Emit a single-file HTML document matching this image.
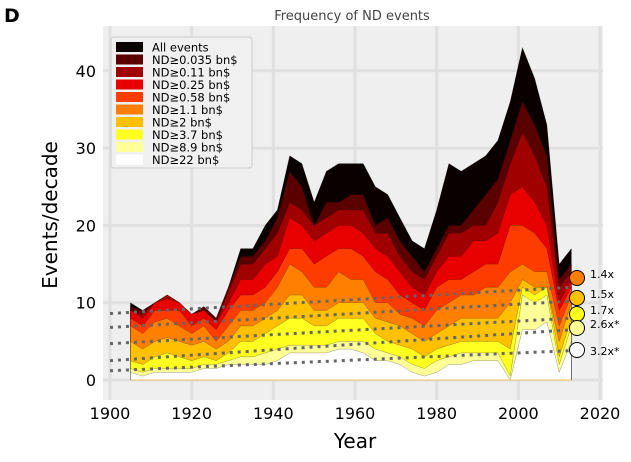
<!DOCTYPE html>
<html><head><meta charset="utf-8"><style>
body{margin:0;background:#fff;}
svg{display:block;font-family:"DejaVu Sans","Liberation Sans",sans-serif;}
</style></head><body>
<svg id="chart" width="631" height="462">
<text x="4" y="22" font-size="19" font-weight="bold">D</text>
<rect x="103" y="26" width="500" height="374" fill="#efefef"/>
<text x="352" y="20" font-size="13" fill="#444" text-anchor="middle">Frequency of ND events</text>
<g id="grid"></g><g id="areas"></g><g id="trends"></g><g id="axes"></g><g id="legend"></g><g id="markers"></g>
<text x="355" y="448" font-size="20" text-anchor="middle">Year</text>
<text transform="translate(57,215) rotate(-90)" font-size="20" text-anchor="middle">Events/decade</text>
</svg>
<script>
const years=[1905,1908,1911,1914,1917,1920,1923,1926,1929,1932,1935,1938,1941,1944,1947,1950,1953,1956,1959,1962,1965,1968,1971,1974,1977,1980,1983,1986,1989,1992,1995,1998,2001,2004,2007,2010,2013];
const sAll=[10,9,10,11,10,8.5,9.5,8,12,17,17,20,22,29,28,23,27,28,28,28,25,24,21,18,17,22,28,27,28,29,31,36,43,39,33,15,17];
const s0035=[9.5,9,10,11,10,8.5,9.5,8,12,16,16,18,21,27,25,20,23,23,24,24,20,21,18,16,14,17,20,20,22,24,26,31,36,33,29,13,15];
const s011=[9,8.5,10,11,10,8.5,9,7.5,11.5,15,15,17,19,23,22,20,21,22,22,22,19,19,16,14,13,16,19,19,20,20,23,28,32,29,25,12,14];
const s025=[9,8,10,10.5,10,8.5,9,7.5,10,13,13,15,16,21,20,18,19,20,20,19,17,16,14,12,11,14,16,16,18,18,19,24,25,23,20,10,13];
const s058=[8,7,9,9,9,7,8,6.5,9,11,11,12,14,17,17,15,16,17,17,16,14,13,11,10,9,12,13,13,14,15,15,20,20,19,17,9,12];
const s11=[7,6,7.5,8,7,6,7,5,7,9,9,10,12,15,14,12,12,14,13,13,10,10,8.5,8,7,9,10,11,11,12,12,14,15,14,14,7,11];
const s2=[5,4,5,5.5,5,4.5,5,4,5,7,7,8,9,11,11,9,9,10,10,10,8,7.5,7,6,5,6,7,8,8,8,8,10,13,12,12,5,10];
const s37=[2.5,2,3,3.5,3,2.5,3,2.5,3.5,5,5,6,7,8,8,7,7,8,8,8,6,5,4.5,4,3,4,4.5,5,5,5,5,4,12,11,12,3,8];
const s89=[1.5,1,1.5,1.5,1.5,1.5,2,2,2.5,3,3,3.5,4,4.5,4.5,4.5,4.5,5,5,5,4,3.5,3,2,1.5,2.5,3,3.5,3.5,3.5,3.5,0.5,11,10,11,2,7];
const s22=[1,0.5,1,1,1,1,1.5,1.5,2,2,2,2,2.5,3.5,3.5,3.5,3.5,4,4,3.5,2.5,2.5,2,1,0.5,1,2,2,2.5,2.5,2.5,0,6.5,6.5,7.5,1,5];
const labels=["All events","ND≥0.035 bn$","ND≥0.11 bn$","ND≥0.25 bn$","ND≥0.58 bn$","ND≥1.1 bn$","ND≥2 bn$","ND≥3.7 bn$","ND≥8.9 bn$","ND≥22 bn$"];
const colors=["#0a0000","#5a0000","#a00000","#e80000","#ff3c00","#ff8000","#ffc000","#ffff20","#ffff98","#ffffff"];
const trendStart=[8.6,6.8,4.7,2.5,1.2];
const trendEnd=[12,10.2,8,6.5,3.8];
const trendLabels=["1.4x","1.5x","1.7x","2.6x*","3.2x*"];
const trendColors=["#ff8000","#ffc000","#ffff20","#ffff98","#ffffff"];
const xTicks=[1900,1920,1940,1960,1980,2000,2020];
const yTicks=[0,10,20,30,40];
const series=[sAll,s0035,s011,s025,s058,s11,s2,s37,s89,s22];
const NS="http://www.w3.org/2000/svg";
const X=y=>110+(y-1900)*490/120;
const Y=v=>380-v*7.73;
function mk(t,p,a){const e=document.createElementNS(NS,t);for(const k in a)e.setAttribute(k,a[k]);p.appendChild(e);return e;}
const grid=document.getElementById('grid'),axes=document.getElementById('axes');
xTicks.forEach(t=>{const l=mk('line',grid,{x1:X(t),x2:X(t),y1:26,y2:400,stroke:'#e0e0e0','stroke-width':3});

const tx=mk('text',axes,{x:X(t),y:419,'font-size':16,'text-anchor':'middle'});tx.textContent=t;
});
yTicks.forEach(t=>{const l=mk('line',grid,{x1:103,x2:603,y1:Y(t),y2:Y(t),stroke:'#e0e0e0','stroke-width':3});

const tx=mk('text',axes,{x:96,y:Y(t)+6,'font-size':16,'text-anchor':'end'});tx.textContent=t;
});
const areas=document.getElementById('areas');
series.forEach((s,i)=>{let d='M'+X(years[0])+','+Y(0);years.forEach((yr,j)=>d+=' L'+X(yr).toFixed(1)+','+Y(s[j]).toFixed(1));d+=' L'+X(years[years.length-1])+','+Y(0)+'Z';
const p=mk('path',areas,{d:d,fill:colors[i],stroke:'#000','stroke-width':0.4,'stroke-opacity':0.5});
});
const bl=mk('line',areas,{x1:X(years[0]),x2:X(years[years.length-1]),y1:Y(0),y2:Y(0),stroke:'#f0c060','stroke-width':1});

const trends=document.getElementById('trends'),markers=document.getElementById('markers');
const my=[278,298,314,328,350];
trendStart.forEach((v,i)=>{const l=mk('line',trends,{x1:X(1900),y1:Y(v),x2:X(2013),y2:Y(trendEnd[i]),stroke:'#666','stroke-width':3,'stroke-dasharray':'3,5'});

const c=mk('circle',markers,{cx:577,cy:my[i],r:7.5,fill:trendColors[i],stroke:'#000','stroke-width':1});

const t=mk('text',markers,{x:590,y:my[i]+(i==4?5:0),'font-size':11});t.textContent=trendLabels[i];
});
const lg=document.getElementById('legend');
const box=mk('rect',lg,{x:111,y:37,width:141,height:131,fill:'#f0f0f0',stroke:'#ccc',rx:3});

labels.forEach((lab,i)=>{const y=42+i*12.5;
const r=mk('rect',lg,{x:116,y:y,width:27,height:10,fill:colors[i]});

const t=mk('text',lg,{x:152,y:y+9.5,'font-size':11.5});t.textContent=lab;
});
</script>
</body></html>
